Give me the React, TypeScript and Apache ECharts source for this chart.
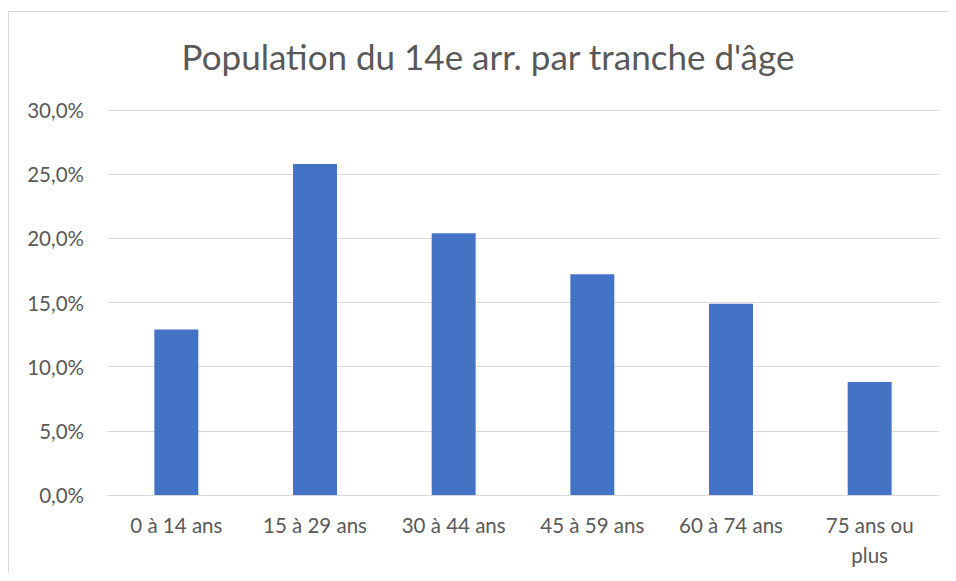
import React, { useEffect, useRef } from "react";
import * as echarts from "echarts";

const titleText = "Population du 14e arr. par tranche d'âge";
const categories = ["0 à 14 ans", "15 à 29 ans", "30 à 44 ans", "45 à 59 ans", "60 à 74 ans", "75 ans ou plus"];
const shares = [12.9, 25.8, 20.4, 17.2, 14.9, 8.8];
const yTicks = { min: 0, max: 30, interval: 5 };

export default function App() {
  const ref = useRef<HTMLDivElement>(null);
  useEffect(() => {
    if (!ref.current) return;
    document.documentElement.style.overflow = "hidden";
    document.body.style.overflow = "hidden";
    const chart = echarts.init(ref.current, undefined, { renderer: "svg" });
    const font = "Lato, 'Open Sans', sans-serif";
    chart.setOption({
      animation: false,
      backgroundColor: "#ffffff",
      title: {
        text: titleText,
        left: 475,
        textAlign: "center",
        top: 25,
        textStyle: { fontFamily: font, fontSize: 35, fontWeight: "normal", color: "#595959" },
      },
      graphic: [
        {
          type: "line",
          shape: { x1: 0.5, y1: 3.5, x2: 948, y2: 3.5 },
          style: { stroke: "#d9d9d9", lineWidth: 1 },
          silent: true,
        },
        {
          type: "line",
          shape: { x1: 0.5, y1: 3.5, x2: 0.5, y2: 565 },
          style: { stroke: "#d9d9d9", lineWidth: 1 },
          silent: true,
        },
      ],
      grid: { left: 99, right: 17, top: 102, bottom: 78, containLabel: false },
      xAxis: {
        type: "category",
        data: categories,
        axisTick: { show: false },
        axisLine: { show: true, lineStyle: { color: "#d9d9d9", width: 1 } },
        axisLabel: {
          interval: 0,
          margin: 15,
          fontFamily: font,
          fontSize: 20.5,
          lineHeight: 30,
          color: "#595959",
          formatter: (v: string) => v.replace(" ou plus", " ou\nplus"),
        },
      },
      yAxis: {
        type: "value",
        min: yTicks.min,
        max: yTicks.max,
        interval: yTicks.interval,
        axisLine: { show: false },
        axisTick: { show: false },
        splitLine: { lineStyle: { color: "#d9d9d9", width: 1 } },
        axisLabel: {
          margin: 23,
          fontFamily: font,
          fontSize: 20.5,
          color: "#595959",
          formatter: (v: number) => v.toFixed(1).replace(".", ",") + "%",
        },
      },
      series: [
        {
          type: "bar",
          data: shares,
          barWidth: "31.7%",
          itemStyle: { color: "#4472c4" },
        },
      ],
    });
    return () => chart.dispose();
  }, []);
  return <div ref={ref} style={{ width: 948, height: 565 }} />;
}
